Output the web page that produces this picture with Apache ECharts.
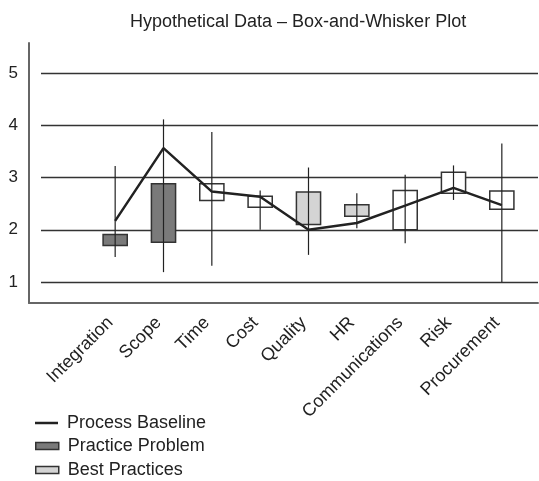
<!DOCTYPE html>
<html>
<head>
<meta charset="utf-8">
<script src="https://cdn.jsdelivr.net/npm/echarts@6/dist/echarts.min.js"></script>
<style>html,body{margin:0;padding:0;background:#fff;}#c{width:539px;height:481px;}</style>
</head>
<body>
<div id="c"></div>
<script>
var categories = ['Integration','Scope','Time','Cost','Quality','HR','Communications','Risk','Procurement'];
var whiskerLow  = [1.48, 1.19, 1.31, 2.00, 1.52, 2.03, 1.74, 2.57, 1.00];
var whiskerHigh = [3.22, 4.11, 3.87, 2.75, 3.19, 2.70, 3.05, 3.23, 3.65];
var boxLow      = [1.70, 1.76, 2.56, 2.43, 2.10, 2.26, 2.00, 2.70, 2.39];
var boxHigh     = [1.91, 2.88, 2.88, 2.64, 2.72, 2.48, 2.75, 3.10, 2.74];
var boxGroup    = ['Practice Problem','Practice Problem','Other','Other','Best Practices','Best Practices','Other','Other','Other'];
var baseline    = [2.17, 3.56, 2.73, 2.63, 2.00, 2.13, 2.46, 2.80, 2.47];
var legendNames = ['Process Baseline', 'Practice Problem', 'Best Practices'];
var yMin = 0.6, yMax = 5.57;

var FONT = '"Liberation Sans", Arial, sans-serif';
var TXT = '#222';
var DARK = '#7a7a7a', LIGHT = '#d4d4d4', EDGE = '#333';

function boxData(group) {
  var out = [];
  for (var i = 0; i < categories.length; i++) {
    if (boxGroup[i] === group) out.push([i, boxLow[i], boxHigh[i]]);
  }
  return out;
}
function renderBox(params, api) {
  var x = api.value(0);
  var lo = api.coord([x, api.value(1)]);
  var hi = api.coord([x, api.value(2)]);
  var w = api.size([1, 0])[0] * 0.5;
  return {
    type: 'rect',
    shape: { x: lo[0] - w / 2, y: hi[1], width: w, height: lo[1] - hi[1] },
    style: api.style()
  };
}
function renderWhisker(params, api) {
  var x = api.value(0);
  var lo = api.coord([x, api.value(1)]);
  var hi = api.coord([x, api.value(2)]);
  return {
    type: 'line',
    shape: { x1: lo[0], y1: lo[1], x2: hi[0], y2: hi[1] },
    style: { stroke: '#222', lineWidth: 1.2 }
  };
}
var whiskerData = categories.map(function (c, i) { return [i, whiskerLow[i], whiskerHigh[i]]; });

function oneLegend(name, top, icon, h, style) {
  return {
    orient: 'vertical', left: 35, top: top, padding: 0,
    itemWidth: 23, itemHeight: h,
    textStyle: { fontFamily: FONT, fontSize: 18, color: TXT, padding: [0, 0, 0, 4] },
    data: [{ name: name, icon: icon, itemStyle: style }]
  };
}

var chart = echarts.init(document.getElementById('c'), null, { renderer: 'canvas' });
chart.setOption({
  backgroundColor: '#fff',
  animation: false,
  textStyle: { fontFamily: FONT },
  title: {
    text: 'Hypothetical Data \u2013 Box-and-Whisker Plot',
    left: 130, top: 13, padding: 0,
    textStyle: { fontFamily: FONT, fontSize: 18, fontWeight: 'normal', color: TXT }
  },
  legend: [
    oneLegend(legendNames[0], 414, 'rect', 2.5, { color: '#222', borderWidth: 0 }),
    oneLegend(legendNames[1], 437, 'rect', 7, { color: DARK, borderColor: EDGE, borderWidth: 1.5 }),
    oneLegend(legendNames[2], 461, 'rect', 7, { color: LIGHT, borderColor: EDGE, borderWidth: 1.5 })
  ],
  grid: [
    { left: 29, right: 1, top: 43, bottom: 178 },
    { left: 41, right: 1, top: 43, bottom: 178 },
    { left: 91, right: 13, top: 43, bottom: 178 }
  ],
  xAxis: [
    { type: 'value', gridIndex: 0, min: 0, max: 1,
      axisLine: { show: true, lineStyle: { color: '#666', width: 2 } },
      axisTick: { show: false }, axisLabel: { show: false }, splitLine: { show: false } },
    { type: 'value', gridIndex: 1, min: 0, max: 1, show: false },
    { type: 'category', gridIndex: 2, data: categories,
      axisLine: { show: false }, axisTick: { show: false },
      axisLabel: { rotate: 45, margin: 12, interval: 0, padding: [0, 7, 0, 0],
        fontFamily: FONT, fontSize: 18, color: TXT } }
  ],
  yAxis: [
    { type: 'value', gridIndex: 0, min: yMin, max: yMax,
      axisLine: { show: true, lineStyle: { color: '#666', width: 2 } },
      axisTick: { show: false },
      axisLabel: { margin: 11, fontFamily: FONT, fontSize: 17, color: TXT, showMinLabel: false, showMaxLabel: false },
      splitLine: { show: false } },
    { type: 'value', gridIndex: 1, min: yMin, max: yMax,
      axisLine: { show: false }, axisTick: { show: false }, axisLabel: { show: false },
      splitLine: { show: true, showMinLine: false, showMaxLine: false, lineStyle: { color: '#333', width: 1.3 } } },
    { type: 'value', gridIndex: 2, min: yMin, max: yMax, show: false }
  ],
  series: [
    { name: 'Other', type: 'custom', xAxisIndex: 2, yAxisIndex: 2, z: 3,
      renderItem: renderBox, data: boxData('Other'),
      itemStyle: { color: '#ffffff', borderColor: EDGE, borderWidth: 1.5 } },
    { name: legendNames[1], type: 'custom', xAxisIndex: 2, yAxisIndex: 2, z: 3,
      renderItem: renderBox, data: boxData('Practice Problem'),
      itemStyle: { color: DARK, borderColor: EDGE, borderWidth: 1.5 } },
    { name: legendNames[2], type: 'custom', xAxisIndex: 2, yAxisIndex: 2, z: 3,
      renderItem: renderBox, data: boxData('Best Practices'),
      itemStyle: { color: LIGHT, borderColor: EDGE, borderWidth: 1.5 } },
    { name: 'Whiskers', type: 'custom', xAxisIndex: 2, yAxisIndex: 2, z: 4,
      renderItem: renderWhisker, data: whiskerData },
    { name: legendNames[0], type: 'line', xAxisIndex: 2, yAxisIndex: 2, z: 5,
      data: baseline, symbol: 'none', color: '#222',
      lineStyle: { color: '#222', width: 2.5 } }
  ]
});
</script>
</body>
</html>
